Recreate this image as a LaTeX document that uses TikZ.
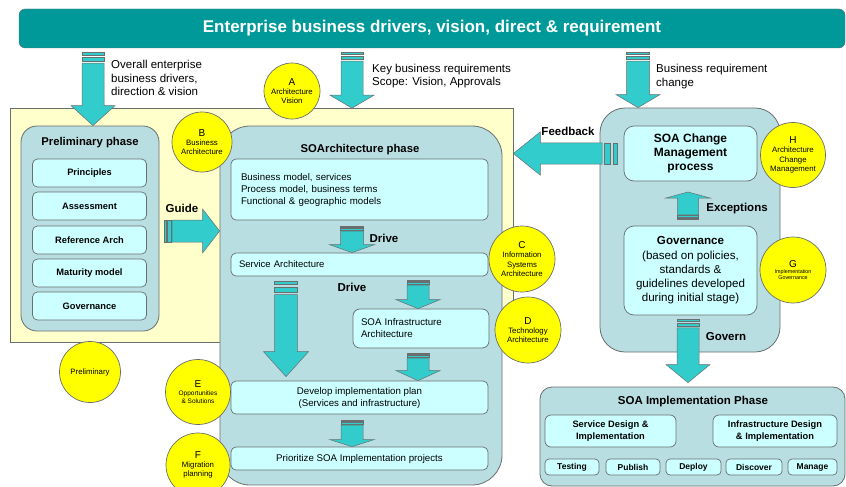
\documentclass[tikz,border=0pt]{standalone}
\usepackage{fontspec}
\setmainfont{Liberation Sans}
\usetikzlibrary{calc,positioning}

\definecolor{bannerteal}{RGB}{0,153,153}
\definecolor{boxteal}{RGB}{185,222,226}
\definecolor{boxcyan}{RGB}{204,255,255}
\definecolor{bgyellow}{RGB}{255,255,204}
\definecolor{arrowcyan}{RGB}{51,204,204}
\definecolor{linegray}{RGB}{105,110,110}
\definecolor{circleyellow}{RGB}{255,255,0}

% striped block arrow: tail, tip, half shaft, half head, head length, stripe unit
\newcommand{\stripearrow}[6]{%
  \coordinate (s1) at ($(#1)!{#6}!(#2)$);
  \coordinate (s2) at ($(#1)!{1.6*#6}!(#2)$);
  \coordinate (s3) at ($(#1)!{3.1*#6}!(#2)$);
  \coordinate (s4) at ($(#1)!{3.7*#6}!(#2)$);
  \coordinate (hb) at ($(#2)!{#5}!(#1)$);
  \filldraw[arrowbody] ($(#1)!#3!90:(#2)$) -- ($(s1)!#3!90:(#2)$) -- ($(s1)!#3!-90:(#2)$) -- ($(#1)!#3!-90:(#2)$) -- cycle;
  \filldraw[arrowbody] ($(s2)!#3!90:(#2)$) -- ($(s3)!#3!90:(#2)$) -- ($(s3)!#3!-90:(#2)$) -- ($(s2)!#3!-90:(#2)$) -- cycle;
  \filldraw[arrowbody] ($(s4)!#3!90:(#2)$) -- ($(hb)!#3!90:(#2)$) -- ($(hb)!#4!90:(#2)$) -- (#2)
    -- ($(hb)!#4!-90:(#2)$) -- ($(hb)!#3!-90:(#2)$) -- ($(s4)!#3!-90:(#2)$) -- cycle;
}

\begin{document}
\begin{tikzpicture}[x=1pt, y=-1pt,
    banner/.style = {draw=linegray, fill=bannerteal, rounded corners=6pt, text=white, minimum width=826pt, minimum height=39pt, font=\bfseries\fontsize{17}{20}\selectfont},
    phasebox/.style = {draw=linegray, line width=0.8pt, fill=boxteal, inner sep=0pt},
    inbox/.style = {draw=linegray, line width=0.7pt, fill=boxcyan, rounded corners=5pt, inner sep=0pt},
    prelimitem/.style = {inbox, minimum width=114pt, minimum height=28pt, font=\bfseries\fontsize{9.3}{11}\selectfont},
    task/.style = {inbox, rounded corners=4pt, minimum height=16pt, font=\bfseries\fontsize{8.5}{10}\selectfont},
    title/.style = {inner sep=0pt, font=\bfseries\fontsize{11.3}{13}\selectfont},
    lbl/.style = {inner sep=0pt, font=\bfseries\fontsize{11.5}{13}\selectfont},
    note/.style = {inner sep=0pt, align=left, font=\fontsize{11.5}{13.8}\selectfont},
    phasecircle/.style = {circle, draw=linegray, line width=0.7pt, fill=circleyellow, inner sep=0pt, align=center, font=\fontsize{7.8}{9.3}\selectfont},
    arrowbody/.style = {fill=arrowcyan, draw=linegray, line width=0.5pt}]
\useasboundingbox (0,0) rectangle (846,487);
\clip (0,0) rectangle (846,487);

% banner
\node[banner] (banner) at (432,28.5) {Enterprise business drivers, vision, direct \& requirement};

% preliminary side
\node[draw=linegray, line width=0.7pt, fill=bgyellow, minimum width=503pt, minimum height=234pt, inner sep=0pt] (bg) at (261.5,225.5) {};
\node[phasebox, rounded corners=16pt, minimum width=138pt, minimum height=205pt] (prelim) at (90,228.5) {};
\node[title] (prelimtitle) at (90,143) {Preliminary phase};
\node[prelimitem] (principles) at (89.5,173) {Principles};
\node[prelimitem] (assessment) at (89.5,206) {Assessment};
\node[prelimitem] (refarch) at (89.5,240) {Reference Arch};
\node[prelimitem] (maturity) at (89.5,273) {Maturity model};
\node[prelimitem] (prelimgov) at (89.5,306) {Governance};

% SOArchitecture phase
\node[phasebox, rounded corners=30pt, minimum width=282pt, minimum height=359pt] (soabox) at (361,305.5) {};
\node[title] (soatitle) at (360,150) {SOArchitecture phase};
\node[inbox, minimum width=257pt, minimum height=61pt, text width=237pt, align=left, font=\fontsize{9.7}{12}\selectfont] (models) at (359.5,189.5) {Business model, services\\Process model, business terms\\Functional \& geographic models};
\node[inbox, minimum width=257pt, minimum height=23pt, text width=241pt, align=left, font=\fontsize{9.5}{11}\selectfont] (servarch) at (359.5,264.5) {Service Architecture};
\node[inbox, rounded corners=7pt, minimum width=136pt, minimum height=39pt, text width=120pt, align=left, font=\fontsize{9.7}{12}\selectfont] (infra) at (421,328.5) {SOA Infrastructure\\Architecture};
\node[inbox, minimum width=257pt, minimum height=33pt, align=center, font=\fontsize{9.7}{12}\selectfont] (develop) at (359.5,397.5) {Develop implementation plan\\(Services and infrastructure)};
\node[inbox, minimum width=257pt, minimum height=23pt, align=center, font=\fontsize{9.7}{11}\selectfont] (prior) at (359.5,458.5) {Prioritize SOA Implementation projects};

% change management side
\node[phasebox, rounded corners=25pt, minimum width=180pt, minimum height=244pt] (changebg) at (690,230) {};
\node[inbox, rounded corners=10pt, minimum width=133pt, minimum height=55pt, align=center, font=\bfseries\fontsize{12}{14}\selectfont] (change) at (690.5,153.5) {SOA Change\\Management\\process};
\node[inbox, rounded corners=10pt, minimum width=133pt, minimum height=89pt, align=center, font=\fontsize{11.6}{14.3}\selectfont] (gov) at (690.5,270.5) {\textbf{Governance}\\(based on policies,\\standards \&\\guidelines developed\\during initial stage)};

% implementation phase
\node[phasebox, rounded corners=12pt, minimum width=305pt, minimum height=99pt] (impl) at (692.5,436.5) {};
\node[title, font=\bfseries\fontsize{11.5}{13}\selectfont] (impltitle) at (693,402) {SOA Implementation Phase};
\node[inbox, rounded corners=6pt, minimum width=131pt, minimum height=32pt, align=center, font=\bfseries\fontsize{9.3}{12}\selectfont] (sdesign) at (610.5,431) {Service Design \&\\Implementation};
\node[inbox, rounded corners=6pt, minimum width=124pt, minimum height=32pt, align=center, font=\bfseries\fontsize{9.3}{12}\selectfont] (idesign) at (775,431) {Infrastructure Design\\\& Implementation};
\node[task, minimum width=54pt] (testing) at (572,467) {Testing};
\node[task, minimum width=54pt] (publish) at (633,467) {Publish};
\node[task, minimum width=55pt] (deploy) at (693.5,467) {Deploy};
\node[task, minimum width=56pt] (discover) at (754,467) {Discover};
\node[task, minimum width=49pt] (manage) at (812.5,467) {Manage};

% block arrows
\coordinate (tvision) at (93,52);
\coordinate (hvision) at (tvision |- prelim.north);
\stripearrow{tvision}{hvision}{11pt}{22pt}{20pt}{3pt}
\coordinate (tkey) at (352,52);
\coordinate (hkey) at (tkey |- bg.north);
\stripearrow{tkey}{hkey}{11pt}{22pt}{13pt}{2.5pt}
\coordinate (tchg) at (638,52);
\coordinate (hchg) at (tchg |- changebg.north);
\stripearrow{tchg}{hchg}{11.5pt}{22pt}{13pt}{2.5pt}
\coordinate (tguide) at (164,231);
\coordinate (hguide) at (tguide -| soabox.west);
\stripearrow{tguide}{hguide}{11pt}{22pt}{17pt}{2.2pt}
\coordinate (tfeed) at (617,153.5);
\coordinate (hfeed) at (tfeed -| bg.east);
\stripearrow{tfeed}{hfeed}{10.7pt}{21.7pt}{27pt}{4pt}
\coordinate (tdrive) at (352,226);
\coordinate (hdrive) at (tdrive |- servarch.north);
\stripearrow{tdrive}{hdrive}{11.5pt}{22.5pt}{8pt}{1.4pt}
\coordinate (tbig) at (286,281);
\coordinate (hbig) at ($(tbig |- develop.north)+(0,-4)$);
\stripearrow{tbig}{hbig}{11.3pt}{22.5pt}{25pt}{3.7pt}
\coordinate (tinfra) at (418,280);
\coordinate (hinfra) at (tinfra |- infra.north);
\stripearrow{tinfra}{hinfra}{11pt}{22pt}{9pt}{1.4pt}
\coordinate (tdev) at (418,353);
\coordinate (hdev) at (tdev |- develop.north);
\stripearrow{tdev}{hdev}{11pt}{22pt}{10pt}{1.4pt}
\coordinate (tprior) at (352,420);
\coordinate (hprior) at (tprior |- prior.north);
\stripearrow{tprior}{hprior}{11pt}{22pt}{7pt}{1.4pt}
\coordinate (texc) at (688,219);
\coordinate (hexc) at (688,192);
\stripearrow{texc}{hexc}{10.5pt}{22pt}{6pt}{1.1pt}
\coordinate (tgov) at (688,319);
\coordinate (hgov) at ($(tgov |- impl.north)+(0,-4)$);
\stripearrow{tgov}{hgov}{11pt}{22pt}{18pt}{2.4pt}

% phase circles
\node[phasecircle, minimum size=56pt] (circA) at (292,91) {{\fontsize{10}{11}\selectfont A}\\Architecture\\Vision};
\node[phasecircle, minimum size=60pt] (circB) at (202,142) {{\fontsize{10}{11}\selectfont B}\\Business\\Architecture};
\node[phasecircle, minimum size=66pt] (circC) at (522,259) {{\fontsize{10}{11}\selectfont C}\\Information\\Systems\\Architecture};
\node[phasecircle, minimum size=66pt] (circD) at (528,330) {{\fontsize{10}{11}\selectfont D}\\Technology\\Architecture};
\node[phasecircle, minimum size=65pt, font=\fontsize{6.5}{7.8}\selectfont] (circE) at (198,392) {{\fontsize{10}{11}\selectfont E}\\Opportunities\\\& Solutions};
\node[phasecircle, minimum size=64pt] (circF) at (198,465) {{\fontsize{10}{11}\selectfont F}\\Migration\\planning};
\node[phasecircle, minimum size=66pt, font=\fontsize{5.4}{6.2}\selectfont] (circG) at (793,270) {{\fontsize{10}{11}\selectfont G}\\Implementation\\Governance};
\node[phasecircle, minimum size=65pt] (circH) at (793,155) {{\fontsize{10}{11}\selectfont H}\\Architecture\\Change\\Management};
\node[phasecircle, minimum size=61pt] (circP) at (90,372) {Preliminary};

% labels
\node[note, anchor=west] (visiontxt) at (111,78) {Overall enterprise\\business drivers,\\direction \& vision};
\node[note, anchor=west] (keytxt) at (372,76) {Key business requirements\\Scope: Vision, Approvals};
\node[note, anchor=west] (chgtxt) at (656,76.5) {Business requirement\\change};
\node[lbl] (guidelbl) at (182,208) {Guide};
\node[lbl] (drivelbl) at (384,238) {Drive};
\node[lbl] (drivelbl2) at (352,287) {Drive};
\node[lbl] (feedlbl) at (568,131) {Feedback};
\node[lbl] (exclbl) at (737,209) {Exceptions};
\node[lbl] (govlbl) at (726,337) {Govern};
\end{tikzpicture}
\end{document}
